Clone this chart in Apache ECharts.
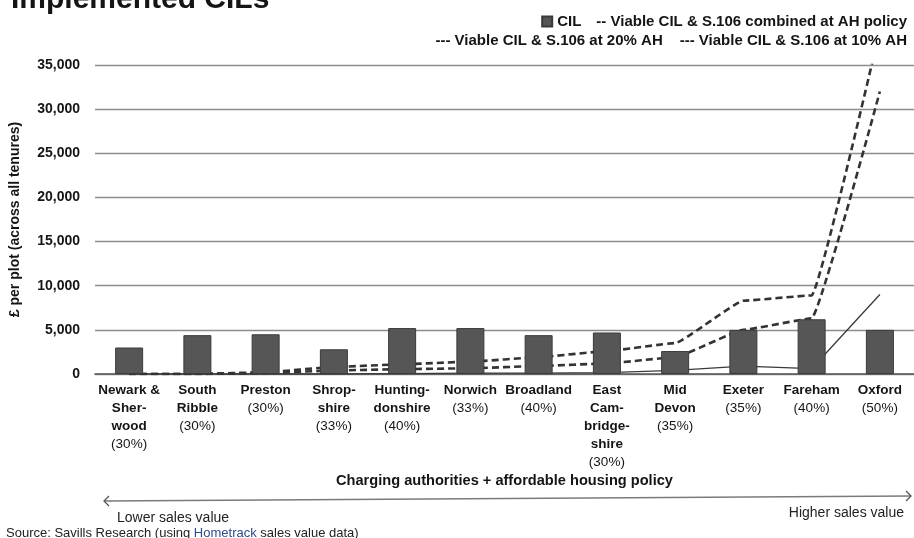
<!DOCTYPE html>
<html>
<head>
<meta charset="utf-8">
<script src="https://cdn.jsdelivr.net/npm/echarts@6/dist/echarts.min.js"></script>
<style>
  html, body { margin: 0; padding: 0; background: #fff; }
  #chart { width: 914px; height: 538px; }
</style>
</head>
<body>
<div id="chart"></div>
<script>
// Charging authorities, ordered from lower to higher sales value
const authorities = [
  'Newark &\nSher-\nwood', 'South\nRibble', 'Preston', 'Shrop-\nshire',
  'Hunting-\ndonshire', 'Norwich', 'Broadland', 'East\nCam-\nbridge-\nshire',
  'Mid\nDevon', 'Exeter', 'Fareham', 'Oxford'
];
// Affordable housing policy of each authority
const ahPolicy = ['30%', '30%', '30%', '33%', '40%', '33%', '40%', '30%', '35%', '35%', '40%', '50%'];

// £ per plot (across all tenures)
const cilRates       = [3000, 4400, 4500, 2800, 5200, 5200, 4400, 4700, 2600, 5000, 6200, 5000];
const viableAtPolicy = [0, 0, 0, 0, 50, 100, 100, 150, 400, 900, 600, 9000];
const viableAt20     = [0, 0, 100, 400, 550, 650, 900, 1200, 1900, 5000, 6300, 32000];
const viableAt10     = [0, 0, 200, 800, 1100, 1400, 1900, 2600, 3500, 8300, 8900, 39000];

const yTicks = { min: 0, max: 35000, step: 5000 };

const NAME_CIL = 'CIL';
const NAME_POLICY = 'Viable CIL & S.106 combined at AH policy';
const NAME_20 = 'Viable CIL & S.106 at 20% AH';
const NAME_10 = 'Viable CIL & S.106 at 10% AH';
const legendDashes = { [NAME_POLICY]: '-- ', [NAME_20]: '--- ', [NAME_10]: '--- ' };

const FONT = '"Liberation Sans", Arial, sans-serif';
const INK = '#151515';

const withCommas = v => String(v).replace(/\B(?=(\d{3})+(?!\d))/g, ',');

const chart = echarts.init(document.getElementById('chart'));

const legendCommon = {
  right: 2,
  orient: 'horizontal',
  itemWidth: 10,
  itemHeight: 10,
  selectedMode: false,
  textStyle: { fontFamily: FONT, fontSize: 15, fontWeight: 'bold', color: INK },
  formatter: name => (legendDashes[name] || '') + name
};

const dashedLine = (name, data) => ({
  name,
  type: 'line',
  data,
  z: 2,
  symbol: 'none',
  smooth: 0.1,
  smoothMonotone: 'x',
  lineStyle: { color: '#333', width: 2.6, type: [7, 4] },
  itemStyle: { color: '#333' }
});

chart.setOption({
  animation: false,
  backgroundColor: '#fff',
  title: {
    text: 'Implemented CILs',
    left: 6,
    top: -20,
    textStyle: { fontFamily: FONT, fontSize: 30, fontWeight: 'bold', color: INK }
  },
  legend: [
    Object.assign({}, legendCommon, {
      top: 9,
      itemGap: 0,
      data: [{ name: NAME_CIL, icon: 'rect' }, { name: NAME_POLICY, icon: 'none' }]
    }),
    Object.assign({}, legendCommon, {
      top: 28,
      itemGap: 2,
      data: [{ name: NAME_20, icon: 'none' }, { name: NAME_10, icon: 'none' }]
    })
  ],
  grid: { left: 95, width: 823, top: 65, bottom: 164, containLabel: false },
  xAxis: {
    type: 'category',
    data: authorities,
    name: 'Charging authorities + affordable housing policy',
    nameLocation: 'middle',
    nameGap: 99,
    nameTextStyle: { fontFamily: FONT, fontSize: 14.6, fontWeight: 'bold', color: INK },
    axisLine: { show: true, lineStyle: { color: '#555', width: 1.6 } },
    axisTick: { show: false },
    axisLabel: {
      interval: 0,
      margin: 7,
      formatter: (v, i) =>
        v.split('\n').map(s => '{n|' + s + '}').join('\n') + '\n{p|(' + ahPolicy[i] + ')}',
      rich: {
        n: { fontFamily: FONT, fontSize: 13.5, fontWeight: 'bold', color: INK, lineHeight: 18 },
        p: { fontFamily: FONT, fontSize: 13.5, fontWeight: 'normal', color: INK, lineHeight: 18 }
      }
    }
  },
  yAxis: {
    type: 'value',
    min: yTicks.min,
    max: yTicks.max,
    interval: yTicks.step,
    name: '£ per plot (across all tenures)',
    nameLocation: 'middle',
    nameGap: 73,
    nameTextStyle: { fontFamily: FONT, fontSize: 14, fontWeight: 'bold', color: INK },
    axisLine: { show: false },
    axisTick: { show: false },
    axisLabel: {
      margin: 15,
      formatter: v => withCommas(v),
      fontFamily: FONT, fontSize: 14, fontWeight: 'bold', color: INK
    },
    splitLine: { lineStyle: { color: '#8c8c8c', width: 1.4 } }
  },
  series: [
    {
      name: NAME_CIL,
      type: 'bar',
      data: cilRates,
      z: 3,
      barWidth: 28,
      itemStyle: { color: '#565656', borderColor: '#3a3a3a', borderWidth: 1 }
    },
    {
      name: NAME_POLICY,
      type: 'line',
      data: viableAtPolicy,
      z: 2,
      symbol: 'none',
      lineStyle: { color: '#3a3a3a', width: 1.3 },
      itemStyle: { color: '#3a3a3a' }
    },
    dashedLine(NAME_20, viableAt20),
    dashedLine(NAME_10, viableAt10)
  ],
  graphic: [
    // sales value direction arrow
    { type: 'line', shape: { x1: 104, y1: 501, x2: 911, y2: 496 }, style: { stroke: '#7a7a7a', lineWidth: 1.3 } },
    { type: 'polyline', shape: { points: [[109, 496], [104, 501], [109, 506]] }, style: { stroke: '#555', lineWidth: 1.3, fill: null } },
    { type: 'polyline', shape: { points: [[906, 491], [911, 496], [906, 501]] }, style: { stroke: '#555', lineWidth: 1.3, fill: null } },
    {
      type: 'text', left: 117, top: 511,
      style: { text: 'Lower sales value', font: '14px ' + FONT, fill: '#222' }
    },
    {
      type: 'text', right: 10, top: 506,
      style: { text: 'Higher sales value', font: '14px ' + FONT, fill: '#222' }
    },
    {
      type: 'text', left: 6, top: 527,
      style: {
        text: '{s|Source: Savills Research (using }{h|Hometrack}{s| sales value data)}',
        rich: {
          s: { fontFamily: FONT, fontSize: 13, fill: '#222' },
          h: { fontFamily: FONT, fontSize: 13, fill: '#2f4d86' }
        }
      }
    }
  ]
});
</script>
</body>
</html>
